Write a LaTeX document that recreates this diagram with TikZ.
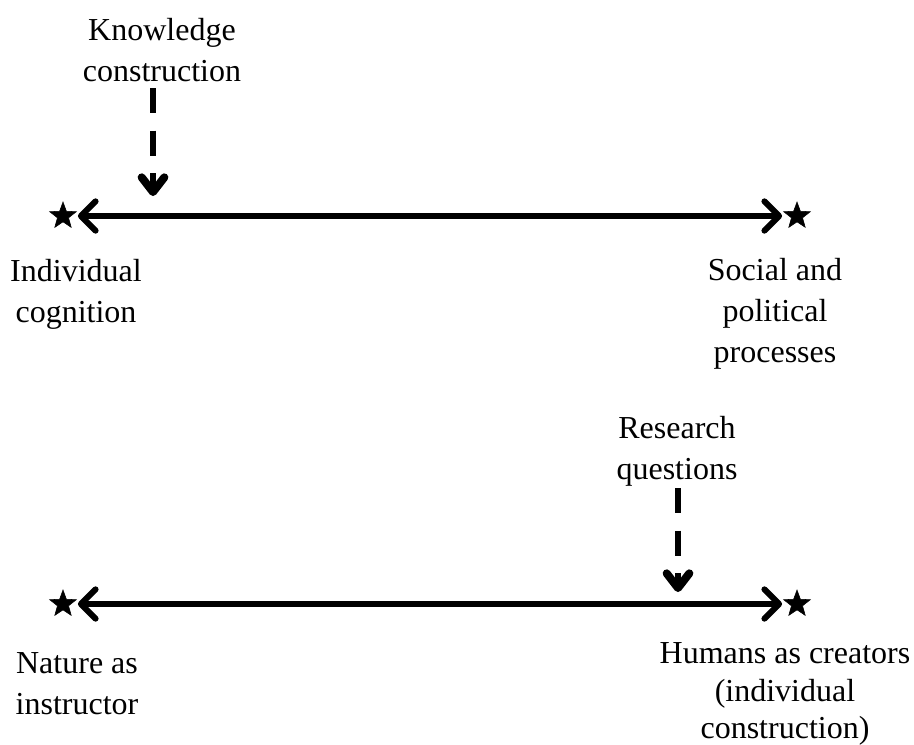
\documentclass[tikz,border=0pt]{standalone}
\usepackage{fontspec}
\setmainfont{Liberation Serif}
\usepackage{tikz}
\usetikzlibrary{positioning,arrows.meta,shapes.geometric}
\tikzset{ %
  ,>={Straight Barb[length=11pt,width=22pt,line width=4.5pt,round]}
  ,every node/.style={font=\fontsize{24}{30.75}\selectfont}
  ,pole/.style={draw, fill, star, star points=5, star point ratio=2.4, inner sep=0, minimum size=21pt}
  ,lbl/.style={align=center, inner sep=0}
  ,axis/.style={line width=4.5pt, <->, shorten <=5pt, shorten >=5pt}
  ,hint/.style={line width=4.5pt, dash pattern=on 19pt off 13pt,
    -{Straight Barb[length=11pt,width=17pt,line width=6pt,round]}}
}
\begin{document}
\begin{tikzpicture}[x=0.75pt, y=-0.75pt]
      \useasboundingbox (0,0) rectangle (914,744);
      % upper scale
      \draw
      node[pole] (L1) at (63,216) {}
      node[pole] (R1) at (797,216) {}
      node[lbl] (cog) at (76,294) {Individual\\cognition}
      node[lbl] (soc) at (775,314) {Social and\\political\\processes}
      node[lbl] (kc) at (162,50) {Knowledge\\construction};
      \draw [axis] (L1) -- (R1);
      \coordinate (k0) at (153,88);
      \coordinate (k1) at (153,196);
      \draw [hint] (k0) -- (k1);
      % lower scale
      \draw
      node[pole] (L2) at (63,604) {}
      node[pole] (R2) at (797,604) {}
      node[lbl] (nat) at (77,684) {Nature as\\instructor}
      node[lbl, font=\fontsize{24}{28}\selectfont] (hum) at (785,694) {Humans as creators\\(individual\\construction)}
      node[lbl] (rq) at (677,451) {Research\\questions};
      \draw [axis] (L2) -- (R2);
      \coordinate (r0) at (678,488);
      \coordinate (r1) at (678,592);
      \draw [hint] (r0) -- (r1);
\end{tikzpicture}
\end{document}
